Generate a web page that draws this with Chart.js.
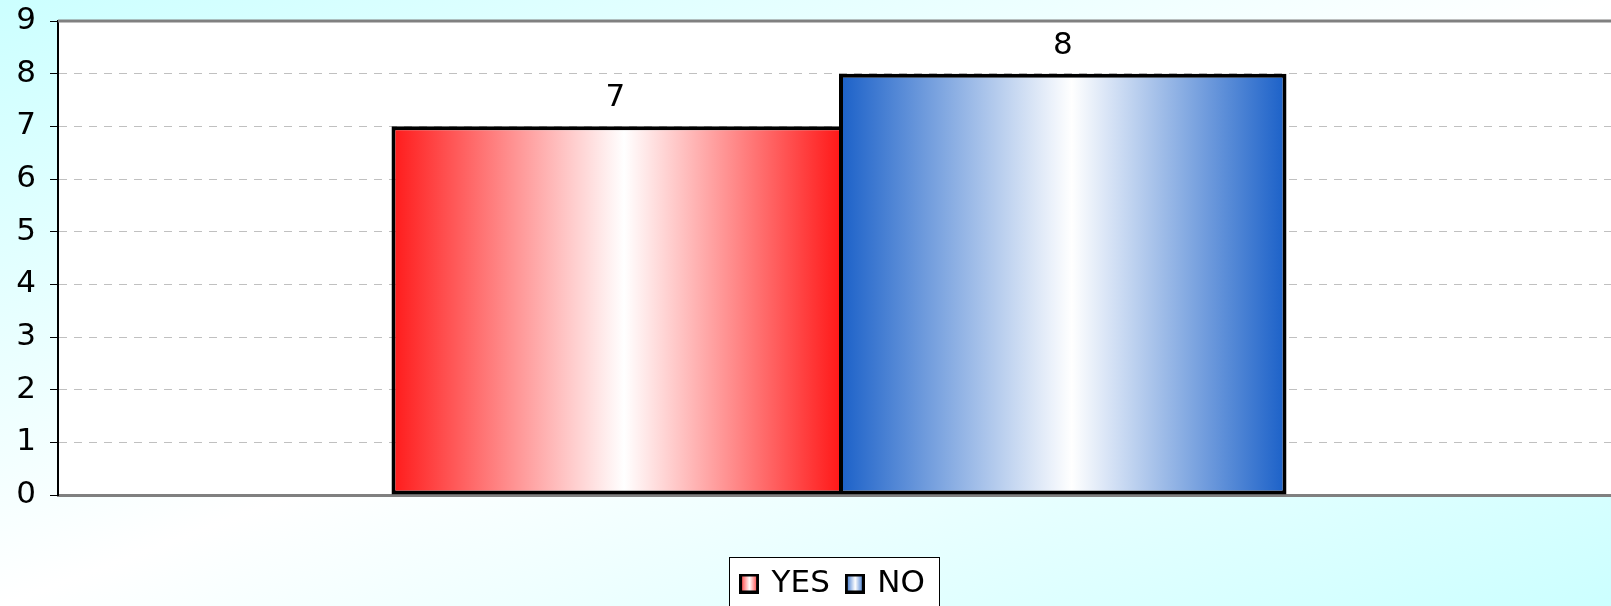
<!DOCTYPE html>
<html>
<head>
<meta charset="utf-8">
<script src="https://cdn.jsdelivr.net/npm/chart.js@4.4.1/dist/chart.umd.min.js"></script>
<style>
  html, body { margin: 0; padding: 0; overflow: hidden; }
  #wrap {
    width: 1611px; height: 606px; overflow: hidden; position: relative;
    background: linear-gradient(to bottom right, #ccffff 0%, #ffffff 50%, #ccffff 100%);
  }
  #chart { position: absolute; left: 0; top: 0; }
</style>
</head>
<body>
<div id="wrap"><canvas id="chart" width="1620" height="609"></canvas></div>
<script>
// chart data
const categories = [''];
const seriesNames = ['YES', 'NO'];
const yesValues = [7];
const noValues = [8];
const yMin = 0;
const yMax = 9;
const yStep = 1;

const edgeColors = ['#ff1a1a', '#1a60c8'];
const CAT_PCT = 0.573;

Chart.defaults.font.family = '"DejaVu Sans", Verdana, sans-serif';
Chart.defaults.font.size = 31;
Chart.defaults.color = '#000';

function barGradient(ctx, x0, x1, edge) {
    const g = ctx.createLinearGradient(x0, 0, x1, 0);
    g.addColorStop(0, edge);
    g.addColorStop(0.52, '#ffffff');
    g.addColorStop(1, edge);
    return g;
}

// gradient fill that follows the bar the library lays out
function barFill(context) {
    const chart = context.chart;
    const i = context.datasetIndex;
    const xs = chart.scales.x;
    if (!xs || !chart.chartArea) return edgeColors[i];
    const c = xs.getPixelForValue(context.dataIndex || 0);
    const half = (xs.right - xs.left) * CAT_PCT / 2;
    if (!isFinite(c) || !(half > 0)) return edgeColors[i];
    const x0 = i === 0 ? c - half : c;
    return barGradient(chart.ctx, x0, x0 + half, edgeColors[i]);
}

function makeIcon(edge) {
    const c = document.createElement('canvas');
    c.width = 20; c.height = 20;
    const g = c.getContext('2d');
    g.fillStyle = barGradient(g, 0, 20, edge);
    g.fillRect(0, 0, 20, 20);
    g.strokeStyle = '#000';
    g.lineWidth = 3;
    g.strokeRect(1.5, 1.5, 17, 17);
    return c;
}
const icons = edgeColors.map(makeIcon);

// white plot area, legend frame, top border
const framePlugin = {
    id: 'framePlugin',
    afterLayout(chart) {
        // legend sits a bit right of the canvas centre
        if (chart.legend) chart.legend.left = 47;
    },
    beforeDraw(chart) {
        const {ctx, chartArea: a} = chart;
        ctx.save();
        ctx.fillStyle = '#ffffff';
        ctx.fillRect(a.left, a.top, a.right - a.left, a.bottom - a.top);
        const lg = chart.legend;
        if (lg && lg.legendHitBoxes && lg.legendHitBoxes.length) {
            const hb = lg.legendHitBoxes;
            const last = hb[hb.length - 1];
            const l = Math.round(hb[0].left - 13);
            const r = Math.round(last.left + last.width + 14);
            const t = Math.round(hb[0].top - 11);
            ctx.fillRect(l, t, r - l, chart.height - t + 5);
            ctx.strokeStyle = '#000';
            ctx.lineWidth = 1;
            ctx.strokeRect(l + 0.5, t + 0.5, r - l, chart.height - t + 5);
        }
        ctx.restore();
    },
    afterDraw(chart) {
        const {ctx, chartArea: a} = chart;
        ctx.save();
        ctx.strokeStyle = '#808080';
        ctx.lineWidth = 3;
        ctx.beginPath();
        ctx.moveTo(a.left, a.top);
        ctx.lineTo(a.right, a.top);
        ctx.stroke();
        ctx.restore();
    }
};

// value above each bar
const valueLabels = {
    id: 'valueLabels',
    afterDatasetsDraw(chart) {
        const ctx = chart.ctx;
        ctx.save();
        ctx.font = '31px "DejaVu Sans", Verdana, sans-serif';
        ctx.fillStyle = '#000';
        ctx.textAlign = 'center';
        ctx.textBaseline = 'alphabetic';
        chart.data.datasets.forEach((ds, i) => {
            chart.getDatasetMeta(i).data.forEach((bar, j) => {
                ctx.fillText(String(ds.data[j]), bar.x, bar.y - 20);
            });
        });
        ctx.restore();
    }
};

const ctx1 = document.getElementById('chart').getContext('2d');
new Chart(ctx1, {
    type: 'bar',
    data: {
        labels: categories,
        datasets: [
            {
                label: seriesNames[0],
                data: yesValues,
                backgroundColor: barFill,
                borderColor: '#000',
                // the NO bar supplies the shared edge
                borderWidth: {top: 4, left: 4, bottom: 4, right: 0},
                borderSkipped: false,
                barPercentage: 1,
                categoryPercentage: CAT_PCT,
            },
            {
                label: seriesNames[1],
                data: noValues,
                backgroundColor: barFill,
                borderColor: '#000',
                borderWidth: 4,
                borderSkipped: false,
                barPercentage: 1,
                categoryPercentage: CAT_PCT,
            },
        ],
    },
    options: {
        responsive: false,
        animation: false,
        events: [],
        layout: {
            padding: {left: 0, top: 21, right: 0, bottom: 0},
        },
        plugins: {
            tooltip: {enabled: false},
            legend: {
                position: 'bottom',
                labels: {
                    usePointStyle: true,
                    boxWidth: 14,
                    boxHeight: 20,
                    padding: 18,
                    color: '#000',
                    font: {size: 31},
                    generateLabels(chart) {
                        const items = Chart.defaults.plugins.legend.labels.generateLabels(chart);
                        items.forEach((it, i) => { it.pointStyle = icons[i]; });
                        return items;
                    },
                },
            },
        },
        scales: {
            x: {
                ticks: {display: false},
                grid: {display: false},
                border: {display: true, color: '#808080', width: 3},
                afterFit(scale) { scale.height = 55; },
            },
            y: {
                min: yMin,
                max: yMax,
                ticks: {stepSize: yStep, padding: 14, color: '#000', font: {size: 31}},
                grid: {color: '#c0c0c0', lineWidth: 1, tickColor: '#000', tickLength: 8},
                border: {display: true, color: '#000', width: 2, dash: [8, 7]},
                afterFit(scale) {
                    scale.width = 58;
                    scale.paddingTop = 0;
                    scale.paddingBottom = 0;
                },
            },
        },
    },
    plugins: [framePlugin, valueLabels],
});
</script>
</body>
</html>
